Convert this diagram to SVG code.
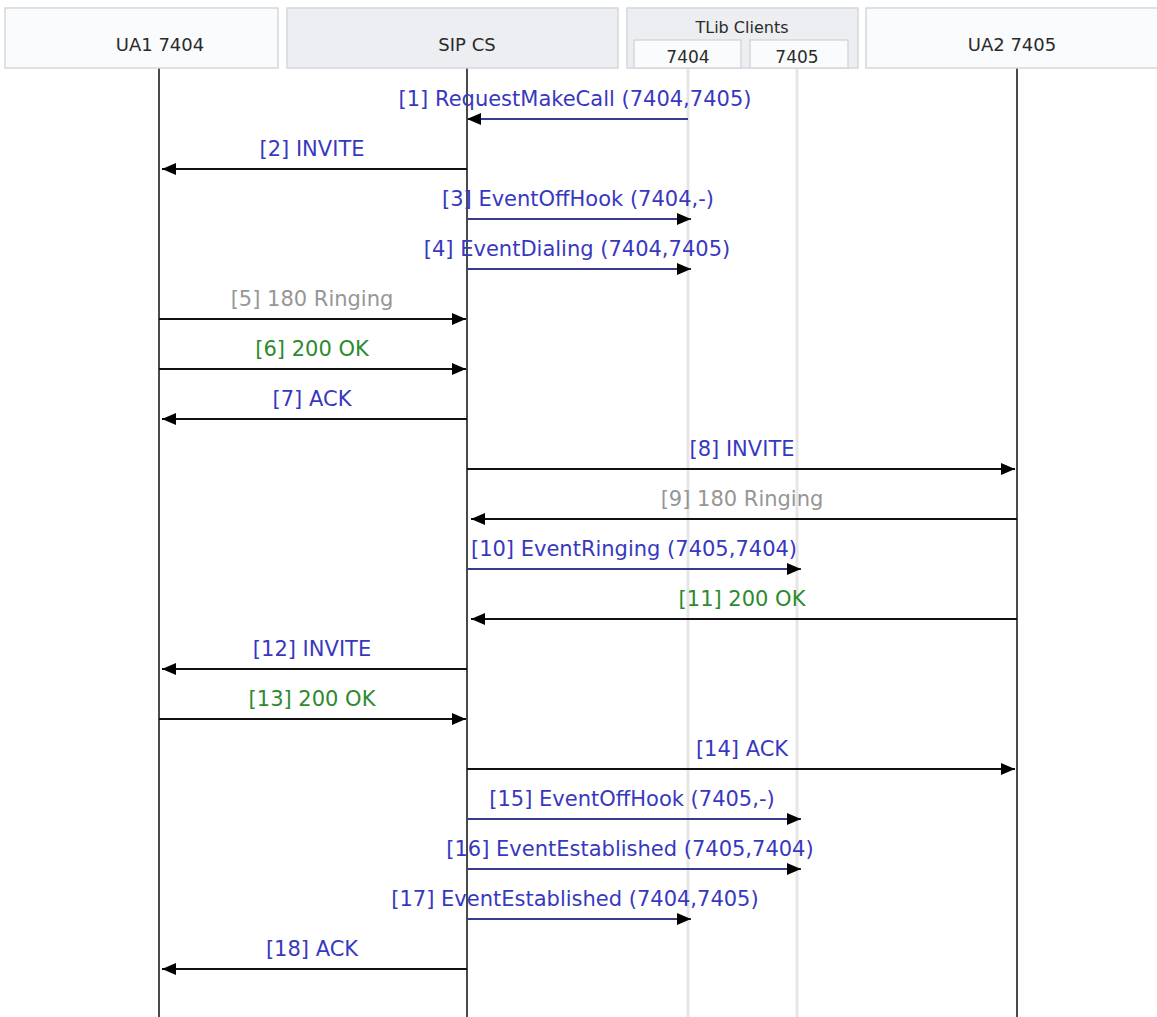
<svg xmlns="http://www.w3.org/2000/svg" width="1157" height="1017" viewBox="0 0 1157 1017">
<style>
.hdr{stroke:#d4d7dc;stroke-width:1.5}
.w{fill:#fafbfc}
.g{fill:#eceef1}
.ht{font-family:"DejaVu Sans",sans-serif;font-size:18px;fill:#2a2a2a;text-anchor:middle}
.st{font-family:"DejaVu Sans",sans-serif;font-size:16px;fill:#2a2a2a;text-anchor:middle}
.life{stroke:#4a4a4a;stroke-width:2}
.tlife{stroke:#e6e6e6;stroke-width:3}
.sip{stroke:#111;stroke-width:2.2;fill:none}
.ev{stroke:#3a3a8e;stroke-width:2;fill:none}
.lb{font-family:"DejaVu Sans",sans-serif;font-size:21px;text-anchor:middle}
.blue{fill:#3838bf}
.gray{fill:#969696}
.green{fill:#2e8a2e}
</style>
<defs>
<marker id="ah" viewBox="0 0 14 12" refX="14" refY="6" markerWidth="14" markerHeight="12" markerUnits="userSpaceOnUse" orient="auto">
<path d="M0,0 L14,6 L0,12 Z" fill="#000"/>
</marker>
</defs>
<rect width="1157" height="1017" fill="#fff"/>
<g id="lifelines">
<line class="tlife" x1="688" y1="68" x2="688" y2="1017"/>
<line class="tlife" x1="797" y1="68" x2="797" y2="1017"/>
<line class="life" x1="159" y1="68" x2="159" y2="1017"/>
<line class="life" x1="467" y1="68" x2="467" y2="1017"/>
<line class="life" x1="1017" y1="68" x2="1017" y2="1017"/>
</g>
<g id="ua1">
<rect class="hdr w" x="5" y="8" width="273" height="60"/>
<text class="ht" x="160" y="51">UA1 7404</text>
</g>
<g id="sipcs">
<rect class="hdr g" x="287" y="8" width="331" height="60"/>
<text class="ht" x="467" y="51">SIP CS</text>
</g>
<g id="tlib">
<rect class="hdr g" x="627" y="8" width="231" height="60"/>
<text class="st" x="742" y="33">TLib Clients</text>
<rect class="hdr w" x="634" y="40" width="107" height="28"/>
<text class="st" x="688" y="63" style="font-size:17px">7404</text>
<rect class="hdr w" x="750" y="40" width="98" height="28"/>
<text class="st" x="797" y="63" style="font-size:17px">7405</text>
</g>
<g id="ua2">
<rect class="hdr w" x="866" y="8" width="295" height="60"/>
<text class="ht" x="1012" y="51">UA2 7405</text>
</g>
<g id="connectors">
<line class="ev" x1="688" y1="119" x2="467" y2="119" marker-end="url(#ah)"/>
<line class="sip" x1="467" y1="169" x2="162" y2="169" marker-end="url(#ah)"/>
<line class="ev" x1="467" y1="219" x2="691" y2="219" marker-end="url(#ah)"/>
<line class="ev" x1="467" y1="269" x2="691" y2="269" marker-end="url(#ah)"/>
<line class="sip" x1="159" y1="319" x2="466" y2="319" marker-end="url(#ah)"/>
<line class="sip" x1="159" y1="369" x2="466" y2="369" marker-end="url(#ah)"/>
<line class="sip" x1="467" y1="419" x2="162" y2="419" marker-end="url(#ah)"/>
<line class="sip" x1="467" y1="469" x2="1015" y2="469" marker-end="url(#ah)"/>
<line class="sip" x1="1017" y1="519" x2="471" y2="519" marker-end="url(#ah)"/>
<line class="ev" x1="467" y1="569" x2="801" y2="569" marker-end="url(#ah)"/>
<line class="sip" x1="1017" y1="619" x2="471" y2="619" marker-end="url(#ah)"/>
<line class="sip" x1="467" y1="669" x2="162" y2="669" marker-end="url(#ah)"/>
<line class="sip" x1="159" y1="719" x2="466" y2="719" marker-end="url(#ah)"/>
<line class="sip" x1="467" y1="769" x2="1015" y2="769" marker-end="url(#ah)"/>
<line class="ev" x1="467" y1="819" x2="801" y2="819" marker-end="url(#ah)"/>
<line class="ev" x1="467" y1="869" x2="801" y2="869" marker-end="url(#ah)"/>
<line class="ev" x1="467" y1="919" x2="691" y2="919" marker-end="url(#ah)"/>
<line class="sip" x1="467" y1="969" x2="162" y2="969" marker-end="url(#ah)"/>
</g>
<g id="labels">
<text class="lb blue" x="575" y="106">[1] RequestMakeCall (7404,7405)</text>
<text class="lb blue" x="312" y="156">[2] INVITE</text>
<text class="lb blue" x="578" y="206">[3] EventOffHook (7404,-)</text>
<text class="lb blue" x="577" y="256">[4] EventDialing (7404,7405)</text>
<text class="lb gray" x="312" y="306">[5] 180 Ringing</text>
<text class="lb green" x="312" y="356">[6] 200 OK</text>
<text class="lb blue" x="312" y="406">[7] ACK</text>
<text class="lb blue" x="742" y="456">[8] INVITE</text>
<text class="lb gray" x="742" y="506">[9] 180 Ringing</text>
<text class="lb blue" x="634" y="556">[10] EventRinging (7405,7404)</text>
<text class="lb green" x="742" y="606">[11] 200 OK</text>
<text class="lb blue" x="312" y="656">[12] INVITE</text>
<text class="lb green" x="312" y="706">[13] 200 OK</text>
<text class="lb blue" x="742" y="756">[14] ACK</text>
<text class="lb blue" x="632" y="806">[15] EventOffHook (7405,-)</text>
<text class="lb blue" x="630" y="856">[16] EventEstablished (7405,7404)</text>
<text class="lb blue" x="575" y="906">[17] EventEstablished (7404,7405)</text>
<text class="lb blue" x="312" y="956">[18] ACK</text>
</g>
</svg>
